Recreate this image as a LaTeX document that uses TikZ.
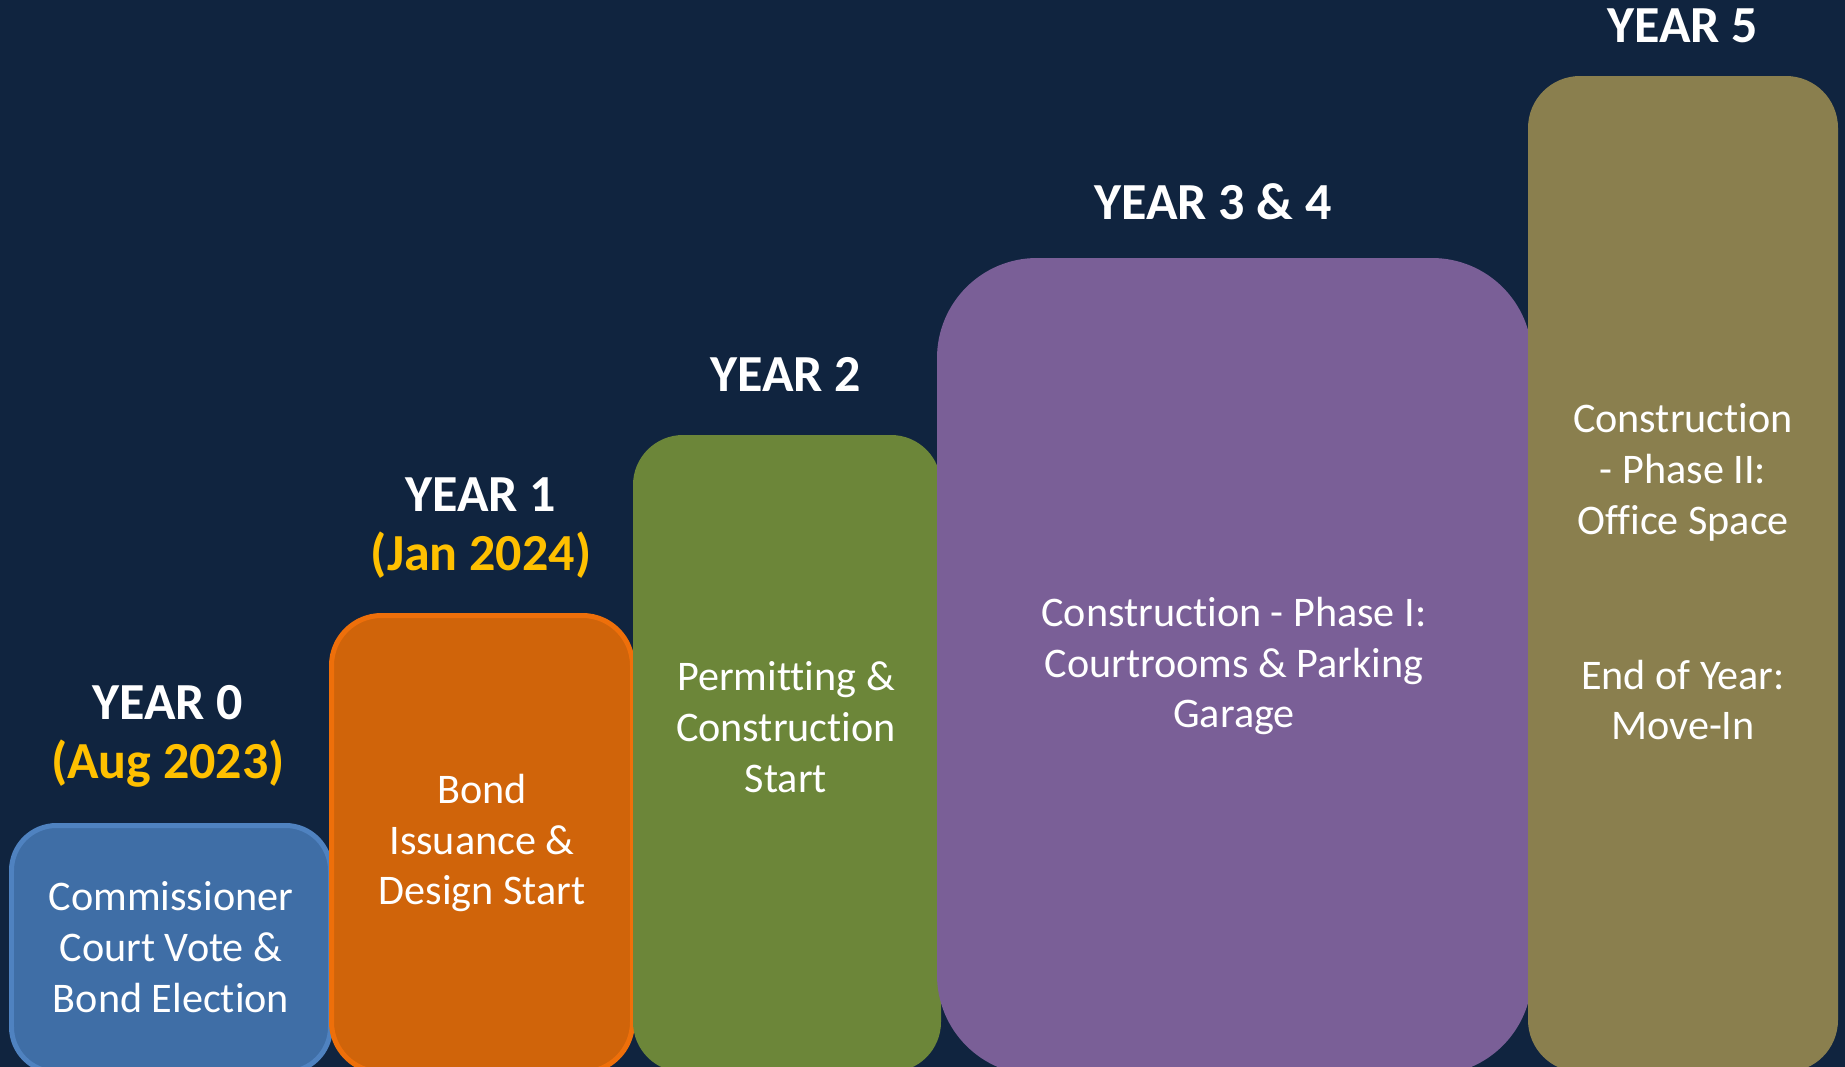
\documentclass[tikz,border=0pt]{standalone}
\usepackage{fontspec}
\setmainfont{Carlito}[Ligatures=NoCommon]
\definecolor{navy}{HTML}{10243F}
\definecolor{gold}{HTML}{FFC000}
\definecolor{blueFill}{HTML}{3F6EA6}
\definecolor{blueLine}{HTML}{4F82C0}
\definecolor{orangeFill}{HTML}{D0640A}
\definecolor{orangeLine}{HTML}{EE6F0A}
\definecolor{greenFill}{HTML}{6C8639}
\definecolor{purpleFill}{HTML}{7A5F97}
\definecolor{oliveFill}{HTML}{8A7F4E}

\begin{document}
\begin{tikzpicture}[x=0.1mm, y=-0.1mm,
                    yeartitle/.style={font=\bfseries\fontsize{14.8}{16.8}\selectfont, text=white, anchor=base, inner sep=0pt},
                    yeardate/.style={yeartitle, text=gold},
                    boxtext/.style={font=\fontsize{12}{14.5}\selectfont, text=white, align=center, inner sep=0pt}]
    % background
    \fill[navy] (0,0) rectangle (1845,1067);
    \clip (0,0) rectangle (1845,1067);
    % boxes
    \filldraw[fill=blueFill, draw=blueLine, line width=0.5mm, rounded corners=4.5mm] (11.5,825.5) rectangle (330.5,1072);
    \filldraw[fill=orangeFill, draw=orangeLine, line width=0.5mm, rounded corners=5mm] (331.5,615.5) rectangle (632.5,1072);
    \fill[greenFill, rounded corners=5mm] (633,435) rectangle (941,1072);
    \fill[purpleFill, rounded corners=10mm] (937,258) rectangle (1532,1075);
    \fill[oliveFill, rounded corners=5.2mm] (1528,76) rectangle (1838,1072);
    % titles
    \node[yeartitle] (y0)     at (168,719)  {YEAR 0};
    \node[yeardate]  (y0date) at (168,778)  {(Aug 2023)};
    \node[yeartitle] (y1)     at (481,511)  {YEAR 1};
    \node[yeardate]  (y1date) at (481,570)  {(Jan 2024)};
    \node[yeartitle] (y2)     at (786,391)  {YEAR 2};
    \node[yeartitle] (y34)    at (1213,219) {YEAR 3 \& 4};
    \node[yeartitle] (y5)     at (1683,43)  {YEAR 5};
    % box texts
    \node[boxtext] (vote)    at (171,947)  {Commissioner\\Court Vote \&\\Bond Election};
    \node[boxtext] (bond)    at (482,843)  {Bond\\Issuance \&\\Design Start};
    \node[boxtext] (permit)  at (786,727)  {Permitting \&\\Construction\\Start};
    \node[boxtext] (phaseI)  at (1234,666) {Construction - Phase I:\\Courtrooms \& Parking\\Garage};
    \node[boxtext] (phaseII) at (1683,472) {Construction\\- Phase II:\\Office Space};
    \node[boxtext] (movein)  at (1683,700) {End of Year:\\Move-In};
\end{tikzpicture}
\end{document}
